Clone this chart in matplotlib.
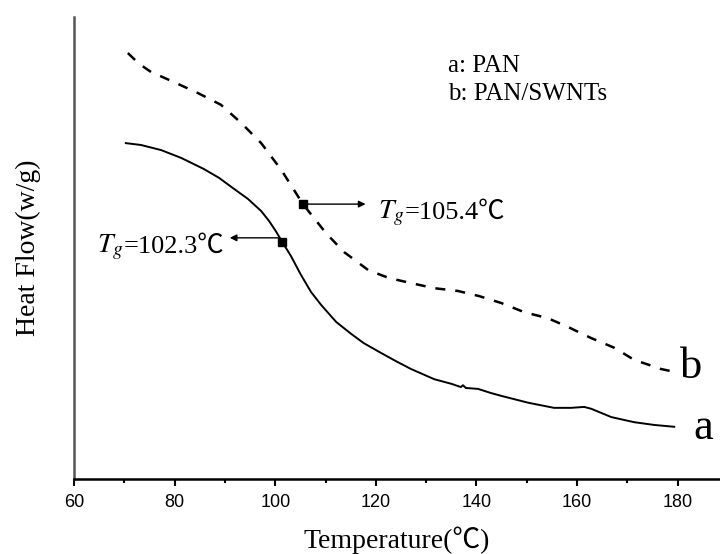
import matplotlib.pyplot as plt
from matplotlib.offsetbox import TextArea, HPacker, AnnotationBbox

plt.rcParams['mathtext.fontset'] = 'stix'

# curve a: PAN (solid)
temp_a = [70.3, 73.3, 77.3, 81.3, 85.8, 88.8, 91.8, 94.6, 97.2, 98.8, 100.2, 101.5,
          103.1, 105.1, 107.1, 109.1, 112.1, 115.1, 117.6, 121.0, 124.0, 127.0,
          131.6, 135.0, 136.9, 137.3, 137.9, 140.3, 142.9, 144.9, 150.3, 155.4,
          158.8, 161.4, 162.8, 164.8, 166.8, 171.3, 175.3, 179.3]
flow_a = [7.27, 7.23, 7.12, 6.95, 6.71, 6.52, 6.28, 6.06, 5.80, 5.58, 5.35, 5.11,
          4.83, 4.42, 4.05, 3.77, 3.40, 3.14, 2.94, 2.73, 2.55, 2.38,
          2.16, 2.06, 1.99, 2.03, 1.97, 1.95, 1.86, 1.80, 1.65, 1.54,
          1.54, 1.56, 1.52, 1.43, 1.34, 1.23, 1.17, 1.13]

# curve b: PAN/SWNTs (dashed)
temp_b = [70.7, 72.9, 75.3, 79.9, 84.7, 89.2, 93.2, 97.2, 101.2, 103.7, 105.5, 110.1,
          113.7, 118.5, 122.6, 127.0, 131.6, 136.3, 140.5, 144.9, 149.5, 154.2,
          158.2, 162.8, 167.4, 171.3, 176.7, 179.3]
flow_b = [9.22, 8.99, 8.81, 8.59, 8.35, 8.10, 7.71, 7.27, 6.69, 6.26, 5.95, 5.32,
          4.91, 4.52, 4.35, 4.24, 4.13, 4.07, 3.96, 3.81, 3.61, 3.48,
          3.29, 3.05, 2.84, 2.58, 2.38, 2.32]

# glass transition points
tg_temp = [101.35, 105.5]
tg_flow = [5.13, 5.95]
tg_labels = ['102.3', '105.4']

x_ticks = [60, 80, 100, 120, 140, 160, 180]

serif = ['Liberation Serif', 'DejaVu Serif']
serif_cjk = ['Liberation Serif', 'Noto Sans CJK SC']

fig = plt.figure(figsize=(7.2, 5.54), dpi=100)
ax = fig.add_axes([0.1028, 0.1354, 0.8972, 0.8339])

ax.plot(temp_a, flow_a, color='black', lw=1.4)
ax.plot(temp_b, flow_b, color='black', lw=1.8, dashes=(4, 4))
ax.plot(tg_temp, tg_flow, 's', color='black', markersize=6)

# Tg arrows
ax.annotate('', xy=(90.4, 5.22), xytext=(tg_temp[0], 5.22),
            arrowprops=dict(arrowstyle='-|>', color='black', lw=1, mutation_scale=10))
ax.annotate('', xy=(118.5, tg_flow[1]), xytext=(tg_temp[1], tg_flow[1]),
            arrowprops=dict(arrowstyle='-|>', color='black', lw=1, mutation_scale=10))


def tg_label(value, xy, align):
    t1 = TextArea('$T_g$', textprops=dict(fontsize=20, family='Liberation Serif'))
    t2 = TextArea('=' + value + '℃', textprops=dict(fontsize=19, family=serif_cjk))
    box = HPacker(children=[t1, t2], align='baseline', pad=0, sep=0)
    ab = AnnotationBbox(box, xy, xycoords='data', box_alignment=align,
                        frameon=False, pad=0)
    ax.add_artist(ab)


tg_label(tg_labels[0], (89.8, 5.01), (1, 0.5))
tg_label(tg_labels[1], (120.4, 5.75), (0, 0.5))

ax.text(134.4, 8.94, 'a: PAN', fontsize=18, family=serif, va='center')
ax.text(134.4, 8.33, 'b: PAN/SWNTs', fontsize=18, family=serif, va='center')
ax.text(180.5, 2.42, 'b', fontsize=32, family=serif, va='center')
ax.text(183.1, 1.10, 'a', fontsize=32, family=serif, va='center')

ax.set_xlim(60, 188.4)
ax.set_ylim(0, 10)
ax.set_xticks(x_ticks)
ax.set_xticks(range(70, 190, 20), minor=True)
ax.set_yticks([])
ax.tick_params(axis='x', which='major', length=5, width=1.5, pad=6, labelsize=13)
ax.tick_params(axis='x', which='minor', length=3, width=1.5)
for lab in ax.get_xticklabels():
    lab.set_family(['Liberation Sans'])

ax.spines['top'].set_visible(False)
ax.spines['right'].set_visible(False)
ax.spines['bottom'].set_linewidth(1.8)
ax.spines['left'].set_linewidth(1.8)
ax.spines['left'].set_color('#555555')

ax.set_xlabel('Temperature(℃)', fontsize=20, family=serif_cjk, labelpad=11)
ax.set_ylabel('Heat Flow(w/g)', fontsize=20, family=serif, labelpad=24)

fig.savefig('out.png', dpi=100)
